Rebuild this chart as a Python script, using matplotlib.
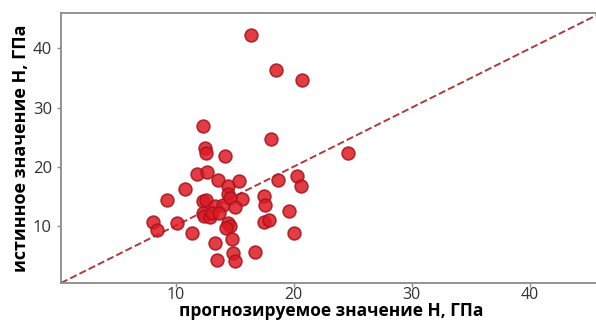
import matplotlib.pyplot as plt

# прогнозируемое и истинное значения твердости H, ГПа
h_pred = [16.4, 18.5, 20.7, 24.6, 12.3, 18.1, 12.5, 12.6, 14.2, 11.8,
          12.7, 13.6, 14.4, 15.4, 18.7, 20.3, 20.6, 10.8, 14.4, 9.3,
          15.6, 17.5, 17.6, 19.6, 12.3, 12.6, 13.3, 14.0, 14.6, 15.0,
          12.3, 12.4, 12.9, 13.1, 13.7, 8.1, 8.4, 10.1, 11.4, 14.4,
          14.6, 14.3, 17.5, 17.9, 20.0, 13.3, 14.8, 16.7, 14.9, 15.0,
          13.5]
h_true = [42.2, 36.4, 34.7, 22.3, 26.8, 24.7, 23.1, 22.3, 21.8, 18.7,
          19.1, 17.7, 16.8, 17.5, 17.7, 18.4, 16.7, 16.2, 15.4, 14.3,
          14.6, 15.1, 13.5, 12.5, 14.2, 14.3, 13.3, 13.5, 14.7, 13.1,
          12.2, 11.6, 11.4, 12.2, 12.2, 10.7, 9.3, 10.4, 8.7, 10.5,
          10.0, 9.6, 10.6, 11.0, 8.7, 7.0, 7.7, 5.6, 5.3, 4.1,
          4.2]

LIM = (0.3, 46)
TICKS = [10, 20, 30, 40]

fig = plt.figure(figsize=(5.96, 3.23), dpi=100)
ax = fig.add_axes([0.1023, 0.1238, 0.906, 0.836])

ax.plot(LIM, LIM, linestyle="--", color="#b03a3a", lw=1.4, zorder=1)
ax.scatter(h_pred, h_true, s=85, color="#dd1a24", alpha=0.85,
           edgecolors="#a8141c", linewidths=1.2, zorder=2)

ax.set_xlim(LIM)
ax.set_ylim(LIM)
ax.set_xticks(TICKS)
ax.set_yticks(TICKS)

for side in ["left", "bottom", "top", "right"]:
    ax.spines[side].set_color("#8a8a8a")
    ax.spines[side].set_linewidth(1.3)
ax.tick_params(colors="#8a8a8a", labelcolor="#333333", labelsize=12,
               length=3, width=1)
ax.tick_params(axis="x", pad=0, labelsize=11.5)
for lab in ax.get_xticklabels() + ax.get_yticklabels():
    lab.set_family("Open Sans")

ax.set_xlabel("прогнозируемое значение H, ГПа", fontsize=12.5,
              fontweight="bold", family="Open Sans", labelpad=-0.5)
ax.set_ylabel("истинное значение H, ГПа", fontsize=13,
              fontweight="bold", family="Open Sans", labelpad=2)

fig.savefig("out.png", dpi=100)
